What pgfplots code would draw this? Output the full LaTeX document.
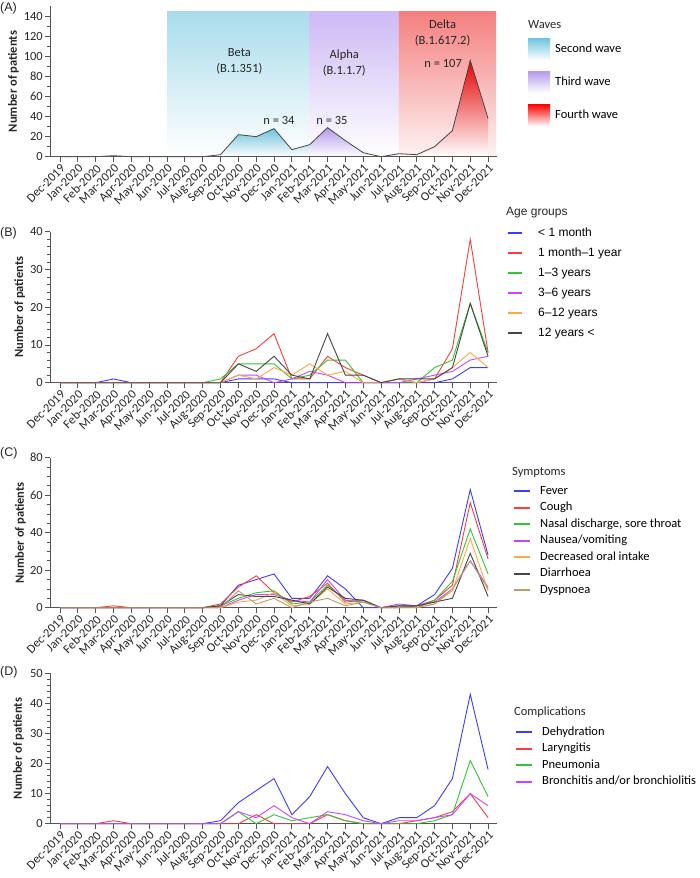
\documentclass[border=0pt]{standalone}
\usepackage{fontspec}
\setmainfont{Carlito}
\newfontfamily\arial{Liberation Sans}
\usepackage{pgfplots}
\usepackage{pgfplotstable}
\pgfplotsset{compat=1.18}

\definecolor{cblue}{HTML}{3C3CFF}
\definecolor{cred}{HTML}{FF3B3B}
\definecolor{cgreen}{HTML}{33C433}
\definecolor{cmag}{HTML}{C845FF}
\definecolor{corange}{HTML}{FFA645}
\definecolor{cgray}{HTML}{454545}
\definecolor{ctan}{HTML}{BC9A6C}
\definecolor{axgray}{HTML}{555555}
\definecolor{txt}{HTML}{262626}
\definecolor{betabg}{HTML}{A9DCEB}
\definecolor{alphabg}{HTML}{CDB9F5}
\definecolor{deltabg}{HTML}{F57F7F}
\definecolor{betafill}{HTML}{6FC3DE}
\definecolor{alphafill}{HTML}{B49BEA}
\definecolor{deltafill}{HTML}{E60000}

\pgfplotstableread{
i total
0 0
1 0
2 0
3 1
4 0
5 0
6 0
7 0
8 0
9 2
10 22
11 20
12 28
13 7
14 12
15 29
16 16
17 4
18 0
19 3
20 2
21 10
22 26
23 96
24 38
}\dataA

\pgfplotstableread{
i m1 y1 y3 y6 y12 old
0 0 0 0 0 0 0
1 0 0 0 0 0 0
2 0 0 0 0 0 0
3 1 0 0 0 0 0
4 0 0 0 0 0 0
5 0 0 0 0 0 0
6 0 0 0 0 0 0
7 0 0 0 0 0 0
8 0 0 0 0 0 0
9 0 0 1 0 0 0
10 1 7 5 2 2 5
11 1 9 5 2 1 3
12 1 13 5 0 4 7
13 0 1 1 1 2 2
14 0 1 2 3 5 1
15 0 7 6 2 2 13
16 0 4 6 0 3 2
17 0 2 0 0 0 2
18 0 0 0 0 0 0
19 0 1 0 0 1 1
20 0 0 0 1 0 1
21 0 1 4 2 1 1
22 1 9 6 3 4 4
23 4 38 21 6 8 21
24 4 8 8 7 4 7
}\dataB

\pgfplotstableread{
i fever cough nasal nausea decr diarr dysp
0 0 0 0 0 0 0 0
1 0 0 0 0 0 0 0
2 0 0 0 0 0 0 0
3 0 1 0 0 0 0 0
4 0 0 0 0 0 0 0
5 0 0 0 0 0 0 0
6 0 0 0 0 0 0 0
7 0 0 0 0 0 0 0
8 0 0 0 0 0 0 0
9 1 2 1 0 0 1 0
10 12 11 5 4 3 7 9
11 15 17 8 7 4 6 2
12 18 8 9 7 8 6 5
13 5 3 2 4 1 4 0
14 5 6 3 3 2 2 3
15 17 13 12 15 10 11 5
16 10 3 4 4 2 5 1
17 0 4 3 4 3 4 3
18 0 0 0 0 0 0 0
19 0 1 1 2 0 1 0
20 1 1 0 1 0 1 0
21 7 4 4 3 2 3 2
22 21 12 14 10 9 5 10
23 63 56 42 25 37 29 25
24 28 26 18 11 9 6 10
}\dataC

\pgfplotstableread{
i dehyd laryng pneum bronch
0 0 0 0 0
1 0 0 0 0
2 0 0 0 0
3 0 1 0 0
4 0 0 0 0
5 0 0 0 0
6 0 0 0 0
7 0 0 0 0
8 0 0 0 0
9 1 0 0 0
10 7 0 4 4
11 11 3 0 2
12 15 0 3 6
13 3 0 1 2
14 9 0 2 0
15 19 3 3 4
16 10 1 1 3
17 2 0 0 1
18 0 0 0 0
19 2 0 0 1
20 2 1 0 1
21 6 2 1 2
22 15 4 3 3
23 43 10 21 10
24 18 2 9 6
}\dataD

\pgfplotsset{
  panel/.style={
    scale only axis, width=447pt, xmin=-0.56, xmax=24.5, ymin=0,
    axis lines=left, axis line style={axgray, line width=0.8pt, -},
    tick style={axgray, line width=0.8pt}, tick align=outside,
    major tick length=5pt, minor tick length=3pt,
    xtick={0,...,24},
    xticklabels={Dec-2019,Jan-2020,Feb-2020,Mar-2020,Apr-2020,May-2020,Jun-2020,Jul-2020,Aug-2020,Sep-2020,Oct-2020,Nov-2020,Dec-2020,Jan-2021,Feb-2021,Mar-2021,Apr-2021,May-2021,Jun-2021,Jul-2021,Aug-2021,Sep-2021,Oct-2021,Nov-2021,Dec-2021},
    xticklabel style={rotate=45, anchor=north east, inner sep=1pt, text=txt},
    yticklabel style={text=txt, inner sep=2pt},
    /pgf/number format/assume math mode=true,
    clip=false,
    ylabel={\bfseries Number of patients},
    ylabel style={anchor=south, text=txt},
    legend cell align=left,
  },
}

\begin{document}
\fontsize{12.5}{15}\selectfont
\begin{tikzpicture}
\useasboundingbox (0,0) rectangle (700pt,-878pt);

% ---------------- (A)
\begin{axis}[panel, at={(50pt,-156.7pt)}, anchor=south west, height=150.4pt,
  ymax=150, ytick={0,20,...,140}, minor ytick={10,30,...,130},
  axis on top,
  ylabel style={at={(axis description cs:-0.060,0.5)}},
  legend style={draw=none, fill=none, at={(axis description cs:1.0694,0.789)}, anchor=north west,
    inner sep=0pt, column sep=5pt, row sep=11pt, nodes={inner sep=0pt, text height=9pt, text depth=3pt}},
  legend image code/.code={\fill[#1] (0pt,-11pt) rectangle (22pt,11pt);},
]
\addplot[draw=none, top color=betabg, bottom color=white, forget plot] coordinates {(6,145) (14,145)} \closedcycle;
\addplot[draw=none, top color=alphabg, bottom color=white, forget plot] coordinates {(14,145) (19,145)} \closedcycle;
\addplot[draw=none, top color=deltabg, bottom color=white!90!deltabg, forget plot] coordinates {(19,145) (24.45,145)} \closedcycle;
\addplot[draw=none, top color=betafill, bottom color=white, forget plot] coordinates {(6,0) (7,0) (8,0) (9,2) (10,22) (11,20) (12,28) (13,7) (14,12)} \closedcycle;
\addplot[draw=none, top color=alphafill, bottom color=white, forget plot] coordinates {(14,12) (15,29) (16,16) (17,4) (18,0) (19,3)} \closedcycle;
\addplot[draw=none, top color=deltafill, bottom color=white, forget plot] coordinates {(19,3) (20,2) (21,10) (22,26) (23,96) (24,38)} \closedcycle;
\addplot[cgray, line width=0.8pt, forget plot] table[x=i, y=total] {\dataA};
\addlegendimage{draw=none, top color=betafill, bottom color=white}
\addlegendentry{Second wave}
\addlegendimage{draw=none, top color=alphafill, bottom color=white}
\addlegendentry{Third wave}
\addlegendimage{draw=none, top color=red, bottom color=white}
\addlegendentry{Fourth wave}
\node[anchor=west, inner sep=0pt, text=txt] at (axis description cs:1.0694,0.882) {Waves};
\node[align=center, text=txt, font=\fontsize{12.5}{16}\selectfont] at (axis cs:10.06,94.7) {Beta\\(B.1.351)};
\node[align=center, text=txt, font=\fontsize{12.5}{16}\selectfont] at (axis cs:15.94,93.7) {Alpha\\(B.1.1.7)};
\node[align=center, text=txt, font=\fontsize{12.5}{16}\selectfont] at (axis cs:21.45,123.8) {Delta\\(B.1.617.2)};
\node[text=txt] at (axis cs:12.28,36.6) {n = 34};
\node[text=txt] at (axis cs:15.25,36.6) {n = 35};
\node[text=txt] at (axis cs:21.48,93.3) {n = 107};
\end{axis}

% ---------------- (B)
\begin{axis}[panel, at={(50pt,-382.7pt)}, anchor=south west, height=151pt,
  ymax=40, ytick={0,10,...,40}, minor y tick num=4,
  ylabel style={at={(axis description cs:-0.046,0.5)}},
  legend image code/.code={\draw[#1, line width=2pt] (0pt,0pt) -- (14pt,0pt);},
  legend style={draw=none, fill=none, at={(axis description cs:1.0224,1.031)}, anchor=north west,
    inner sep=0pt, column sep=15pt, row sep=8pt, font=\arial\fontsize{12}{14}\selectfont,
    nodes={inner sep=0pt, text height=9pt, text depth=3pt}},
]
\addplot[cblue, line width=0.9pt] table[x=i, y=m1] {\dataB};
\addlegendentry{< 1 month}
\addplot[cred, line width=0.9pt] table[x=i, y=y1] {\dataB};
\addlegendentry{1 month–1 year}
\addplot[cgreen, line width=0.9pt] table[x=i, y=y3] {\dataB};
\addlegendentry{1–3 years}
\addplot[cmag, line width=0.9pt] table[x=i, y=y6] {\dataB};
\addlegendentry{3–6 years}
\addplot[corange, line width=0.9pt] table[x=i, y=y12] {\dataB};
\addlegendentry{6–12 years}
\addplot[cgray, line width=0.9pt] table[x=i, y=old] {\dataB};
\addlegendentry{12 years <}
\node[anchor=west, inner sep=0pt, text=txt, font=\arial\fontsize{12}{14}\selectfont] at (axis description cs:1.0201,1.124) {Age groups};
\end{axis}

% ---------------- (C)
\begin{axis}[panel, at={(50pt,-607.7pt)}, anchor=south west, height=150pt,
  ymax=80, ytick={0,20,...,80}, minor y tick num=3,
  ylabel style={at={(axis description cs:-0.044,0.5)}},
  legend image code/.code={\draw[#1, line width=2pt] (0pt,0pt) -- (16pt,0pt);},
  legend style={draw=none, fill=none, at={(axis description cs:1.0358,0.818)}, anchor=north west,
    inner sep=0pt, column sep=9pt, row sep=4.5pt,
    nodes={inner sep=0pt, text height=9pt, text depth=3pt}},
]
\addplot[cblue, line width=0.9pt] table[x=i, y=fever] {\dataC};
\addlegendentry{Fever}
\addplot[cred, line width=0.9pt] table[x=i, y=cough] {\dataC};
\addlegendentry{Cough}
\addplot[cgreen, line width=0.9pt] table[x=i, y=nasal] {\dataC};
\addlegendentry{Nasal discharge, sore throat}
\addplot[cmag, line width=0.9pt] table[x=i, y=nausea] {\dataC};
\addlegendentry{Nausea/vomiting}
\addplot[corange, line width=0.9pt] table[x=i, y=decr] {\dataC};
\addlegendentry{Decreased oral intake}
\addplot[cgray, line width=0.9pt] table[x=i, y=diarr] {\dataC};
\addlegendentry{Diarrhoea}
\addplot[ctan, line width=0.9pt] table[x=i, y=dysp] {\dataC};
\addlegendentry{Dyspnoea}
\node[anchor=west, inner sep=0pt, text=txt] at (axis description cs:1.0336,0.905) {Symptoms};
\end{axis}

% ---------------- (D)
\begin{axis}[panel, at={(50pt,-823.7pt)}, anchor=south west, height=150.4pt,
  ymax=50, ytick={0,10,...,50}, minor y tick num=4,
  ylabel style={at={(axis description cs:-0.049,0.5)}},
  legend image code/.code={\draw[#1, line width=2pt] (0pt,0pt) -- (16pt,0pt);},
  legend style={draw=none, fill=none, at={(axis description cs:1.0403,0.6496)}, anchor=north west,
    inner sep=0pt, column sep=9pt, row sep=4.5pt,
    nodes={inner sep=0pt, text height=9pt, text depth=3pt}},
]
\addplot[cblue, line width=0.9pt] table[x=i, y=dehyd] {\dataD};
\addlegendentry{Dehydration}
\addplot[cred, line width=0.9pt] table[x=i, y=laryng] {\dataD};
\addlegendentry{Laryngitis}
\addplot[cgreen, line width=0.9pt] table[x=i, y=pneum] {\dataD};
\addlegendentry{Pneumonia}
\addplot[cmag, line width=0.9pt] table[x=i, y=bronch] {\dataD};
\addlegendentry{Bronchitis and/or bronchiolitis}
\node[anchor=west, inner sep=0pt, text=txt] at (axis description cs:1.038,0.743) {Complications};
\end{axis}

\node[anchor=west, inner sep=0pt, text=txt, font=\arial\fontsize{12.5}{15}\selectfont] at (0pt,-8pt) {(A)};
\node[anchor=west, inner sep=0pt, text=txt, font=\arial\fontsize{12.5}{15}\selectfont] at (0pt,-233pt) {(B)};
\node[anchor=west, inner sep=0pt, text=txt, font=\arial\fontsize{12.5}{15}\selectfont] at (0pt,-453pt) {(C)};
\node[anchor=west, inner sep=0pt, text=txt, font=\arial\fontsize{12.5}{15}\selectfont] at (0pt,-672pt) {(D)};
\end{tikzpicture}
\end{document}
